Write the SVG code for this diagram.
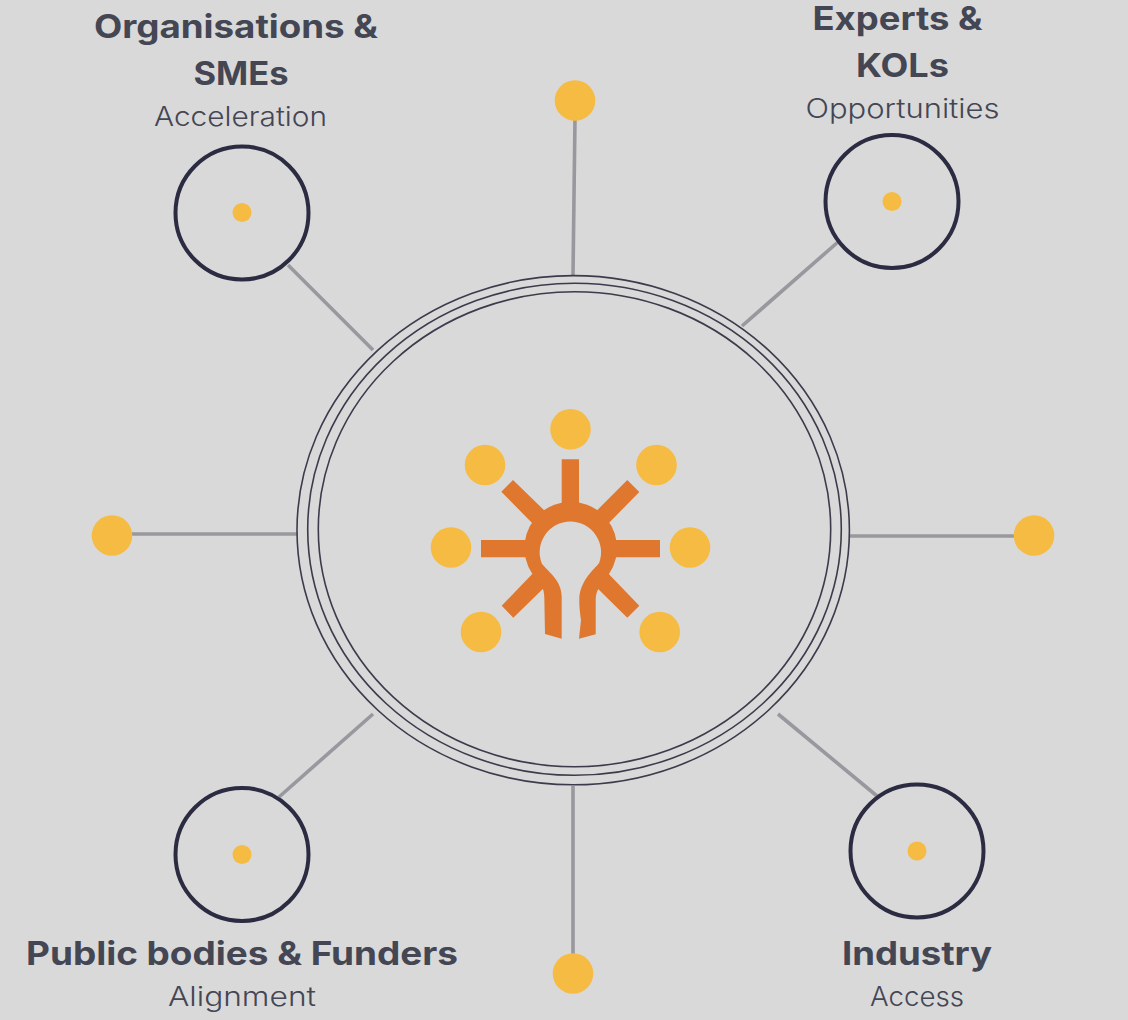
<svg xmlns="http://www.w3.org/2000/svg" width="1128" height="1020" viewBox="0 0 1128 1020">
<style>
.t{font-family:Inter,"Open Sans","Liberation Sans",sans-serif;fill:#444654;text-anchor:middle}
.h{font-size:32px;font-weight:700}
.s{font-size:27px;font-weight:300}
.c{fill:none;stroke:#2b2b42;stroke-width:4}
.d{fill:#f6bb42}
.l{fill:none;stroke:#98989e;stroke-width:3.6}
.r{fill:none;stroke:#3b3b4c;stroke-width:1.6}
.o{fill:#e0772e}
</style>
<rect width="1128" height="1020" fill="#d9d9d9"/>
<g id="connectors">
<line class="l" x1="575" y1="118" x2="573" y2="275"/>
<line class="l" x1="288" y1="265" x2="373" y2="350"/>
<line class="l" x1="838" y1="242" x2="742" y2="326"/>
<line class="l" x1="130" y1="534" x2="297" y2="534"/>
<line class="l" x1="850" y1="536" x2="1016" y2="536"/>
<line class="l" x1="373" y1="714" x2="279" y2="797"/>
<line class="l" x1="778" y1="714" x2="877" y2="796"/>
<line class="l" x1="573" y1="786" x2="573" y2="955"/>
</g>
<g id="hub">
<ellipse class="r" cx="573.2" cy="530.2" rx="276.2" ry="254.6"/>
<ellipse class="r" cx="574.5" cy="529.3" rx="266.8" ry="246"/>
<ellipse class="r" cx="574.5" cy="529.2" rx="256.2" ry="237.5"/>
</g>
<g id="icon">
<circle class="d" cx="570.5" cy="429.3" r="20.3"/>
<circle class="d" cx="485" cy="465" r="20.3"/>
<circle class="d" cx="656.5" cy="465" r="20.3"/>
<circle class="d" cx="451" cy="547.5" r="20.3"/>
<circle class="d" cx="690" cy="547.5" r="20.3"/>
<circle class="d" cx="481" cy="632" r="20.3"/>
<circle class="d" cx="659.7" cy="632" r="20.3"/>
<path class="o" d="M561.7 459.3H579V510H561.7ZM481 540H530V557.3H481ZM611 540H660V557.3H611ZM513 480L548 514L536 527L501.3 491.7ZM627.3 480L639.3 492L605 527L593.4 514ZM501.700 605.700L538 568L551 581L513.300 617.700ZM639.300 605.700L627.300 617.700L590 581L603 568Z"/>
<path class="o" d="M545 634L544.3 597C544 592 543.500 590 542.700 589L532.400 574A46.300 46.300 0 1 1 609 574L598.300 589C596.500 592 595.700 596 595.700 600V634.300L579 638.700L581 620C580 612 579.300 608 579.300 600C579.300 583 591 572 599 563.300A30.700 30.700 0 1 0 541.700 563.300C548 572 561.700 580 561.700 597V638.700Z"/>
</g>
<g id="node-organisations">
<circle class="c" cx="242" cy="213" r="66.5"/><circle class="d" cx="242" cy="212.500" r="9.5"/>
<text class="t h" x="236" y="38" textLength="284" lengthAdjust="spacingAndGlyphs">Organisations &amp;</text>
<text class="t h" x="241" y="85" textLength="95" lengthAdjust="spacingAndGlyphs">SMEs</text>
<text class="t s" x="240.500" y="126" textLength="173" lengthAdjust="spacingAndGlyphs">Acceleration</text>
</g>
<g id="node-experts">
<circle class="c" cx="892" cy="201.500" r="66.5"/><circle class="d" cx="892" cy="201.500" r="9.500"/>
<text class="t h" x="897.500" y="30" textLength="170" lengthAdjust="spacingAndGlyphs">Experts &amp;</text>
<text class="t h" x="902.500" y="77" textLength="93" lengthAdjust="spacingAndGlyphs">KOLs</text>
<text class="t s" x="902.500" y="118" textLength="194" lengthAdjust="spacingAndGlyphs">Opportunities</text>
</g>
<g id="node-public">
<circle class="c" cx="242" cy="854.500" r="66.5"/><circle class="d" cx="242" cy="854.500" r="9.500"/>
<text class="t h" x="242" y="965" textLength="432" lengthAdjust="spacingAndGlyphs">Public bodies &amp; Funders</text>
<text class="t s" x="242" y="1006" textLength="148" lengthAdjust="spacingAndGlyphs">Alignment</text>
</g>
<g id="node-industry">
<circle class="c" cx="917" cy="851" r="66.5"/><circle class="d" cx="917" cy="851" r="9.500"/>
<text class="t h" x="917" y="965" textLength="150" lengthAdjust="spacingAndGlyphs">Industry</text>
<text class="t s" x="917" y="1006" textLength="94" lengthAdjust="spacingAndGlyphs">Access</text>
</g>
<g id="spokes">
<circle class="d" cx="575" cy="100.500" r="20.3"/>
<circle class="d" cx="112" cy="535.500" r="20.3"/>
<circle class="d" cx="1034" cy="535.500" r="20.3"/>
<circle class="d" cx="573" cy="973.500" r="20.3"/>
</g>
</svg>
